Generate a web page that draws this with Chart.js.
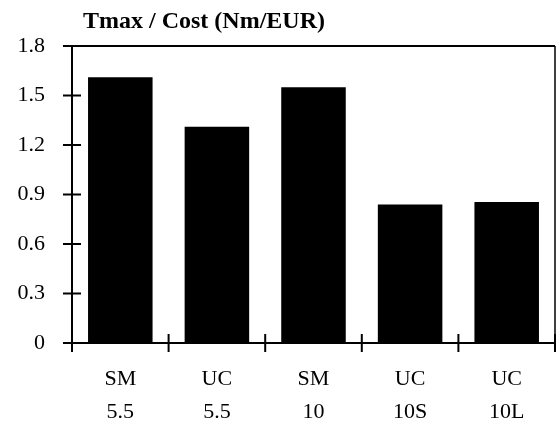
<!DOCTYPE html>
<html>
<head>
<meta charset="utf-8">
<script src="https://cdn.jsdelivr.net/npm/chart.js@4"></script>
<style>
  body { margin: 0; background: #fff; }
  #grafik { display: block; }
</style>
</head>
<body>
<canvas id="grafik" width="558" height="426"></canvas>
<script>
// data
const kategori = [["SM", "5.5"], ["UC", "5.5"], ["SM", "10"], ["UC", "10S"], ["UC", "10L"]];
const nilai = [1.61, 1.31, 1.55, 0.84, 0.855];
const yTicks = [0, 0.3, 0.6, 0.9, 1.2, 1.5, 1.8];
const judul = "Tmax / Cost (Nm/EUR)";

const fontSerif = "'Liberation Serif', 'Times New Roman', serif";

// frame + ticks that cross the axis lines
const bingkai = {
  id: "bingkai",
  afterDraw(chart) {
    const { ctx, chartArea: a, scales } = chart;
    ctx.save();
    ctx.strokeStyle = "#000";
    // top line
    ctx.lineWidth = 2;
    ctx.beginPath();
    ctx.moveTo(a.left, a.top);
    ctx.lineTo(a.right, a.top);
    ctx.stroke();
    // right line
    ctx.lineWidth = 1.5;
    ctx.beginPath();
    ctx.moveTo(a.right, a.top);
    ctx.lineTo(a.right, a.bottom);
    ctx.stroke();
    // y ticks
    ctx.lineWidth = 2;
    yTicks.forEach((v) => {
      const y = scales.y.getPixelForValue(v);
      ctx.beginPath();
      ctx.moveTo(a.left - 9, y);
      ctx.lineTo(a.left + 9, y);
      ctx.stroke();
    });
    // x ticks at category edges
    const n = kategori.length;
    for (let i = 0; i <= n; i++) {
      const x = i < n
        ? scales.x.getPixelForValue(i) - (a.right - a.left) / n / 2
        : a.right;
      ctx.beginPath();
      ctx.moveTo(x, a.bottom - 9);
      ctx.lineTo(x, a.bottom + 9);
      ctx.stroke();
    }
    // title
    ctx.fillStyle = "#000";
    ctx.font = "bold 24px " + fontSerif;
    ctx.textAlign = "left";
    ctx.textBaseline = "alphabetic";
    ctx.fillText(judul, 83, 28);
    ctx.restore();
  },
};

const crt = new Chart(document.getElementById("grafik"), {
  type: "bar",
  data: {
    labels: kategori,
    datasets: [
      {
        data: nilai,
        backgroundColor: "#000",
        borderWidth: 0,
        barPercentage: 0.668,
        categoryPercentage: 1,
      },
    ],
  },
  options: {
    responsive: false,
    animation: false,
    layout: { padding: { top: 46, right: 3, left: 0, bottom: 0 } },
    scales: {
      x: {
        grid: { display: false, drawTicks: false },
        border: { display: true, color: "#000", width: 2 },
        ticks: {
          color: "#000",
          padding: 20,
          maxRotation: 0,
          autoSkip: false,
          font: { family: fontSerif, size: 22, lineHeight: 1.5 },
        },
        afterFit(scale) { scale.height = 83; },
      },
      y: {
        min: 0,
        max: 1.8,
        grid: { display: false, drawTicks: false },
        border: { display: true, color: "#000", width: 2 },
        afterBuildTicks(scale) { scale.ticks = yTicks.map((v) => ({ value: v })); },
        ticks: {
          color: "#000",
          padding: 27,
          font: { family: fontSerif, size: 22 },
          callback: (v) => String(Math.round(v * 10) / 10),
        },
        afterFit(scale) { scale.width = 72; },
      },
    },
    plugins: {
      legend: { display: false },
      tooltip: { enabled: false },
    },
  },
  plugins: [bingkai],
});
</script>
</body>
</html>
